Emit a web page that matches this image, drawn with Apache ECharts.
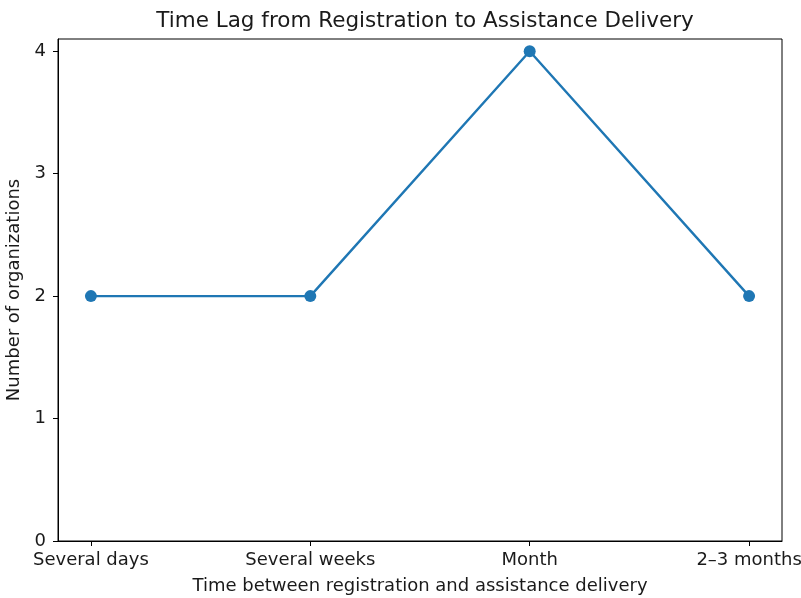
<!DOCTYPE html>
<html>
<head>
<meta charset="utf-8">
<script src="https://cdn.jsdelivr.net/npm/echarts@6/dist/echarts.min.js"></script>
<style>
  html, body { margin: 0; padding: 0; background: #fff; }
  #chart { width: 801px; height: 598px; }
</style>
</head>
<body>
<div id="chart"></div>
<script>
const categories = ['Several days', 'Several weeks', 'Month', '2–3 months']
const counts = [2, 2, 4, 2]
const yTicks = [0, 1, 2, 3, 4]

const font = 'DejaVu Sans'
const textColor = '#1a1a1a'
const xPositions = categories.map((_, i) => i)

const chart = echarts.init(document.getElementById('chart'))

chart.setOption({
  backgroundColor: '#fff',
  animation: false,
  title: {
    text: 'Time Lag from Registration to Assistance Delivery',
    left: 420,
    textAlign: 'center',
    top: 5,
    textStyle: { fontFamily: font, fontSize: 21.5, fontWeight: 'normal', color: textColor }
  },
  grid: {
    left: 58,
    right: 19,
    top: 39,
    bottom: 57,
    outerBoundsMode: 'none',
    containLabel: false,
    show: true,
    borderColor: '#000',
    borderWidth: 1,
    backgroundColor: 'transparent'
  },
  xAxis: {
    type: 'value',
    min: -0.15,
    max: 3.15,
    name: 'Time between registration and assistance delivery',
    nameLocation: 'middle',
    nameGap: 36,
    nameTextStyle: { fontFamily: font, fontSize: 18, color: textColor },
    splitLine: { show: false },
    axisLine: { show: true, onZero: false, lineStyle: { color: '#000', width: 1 } },
    axisTick: { show: true, length: 5, customValues: xPositions, lineStyle: { color: '#000' } },
    axisLabel: {
      customValues: xPositions,
      formatter: v => categories[Math.round(v)],
      fontFamily: font,
      fontSize: 18,
      color: textColor,
      margin: 10
    }
  },
  yAxis: {
    type: 'value',
    min: 0,
    max: 4.1,
    name: 'Number of organizations',
    nameLocation: 'middle',
    nameGap: 34,
    nameTextStyle: { fontFamily: font, fontSize: 18, color: textColor },
    splitLine: { show: false },
    axisLine: { show: true, onZero: false, lineStyle: { color: '#000', width: 1 } },
    axisTick: { show: true, length: 5, customValues: yTicks, lineStyle: { color: '#000' } },
    axisLabel: {
      customValues: yTicks,
      fontFamily: font,
      fontSize: 18,
      color: textColor,
      margin: 12
    }
  },
  series: [{
    type: 'line',
    data: counts.map((v, i) => [i, v]),
    symbol: 'circle',
    symbolSize: 12,
    showSymbol: true,
    lineStyle: { color: '#1f77b4', width: 2.4 },
    itemStyle: { color: '#1f77b4', borderWidth: 0 }
  }]
})
</script>
</body>
</html>
